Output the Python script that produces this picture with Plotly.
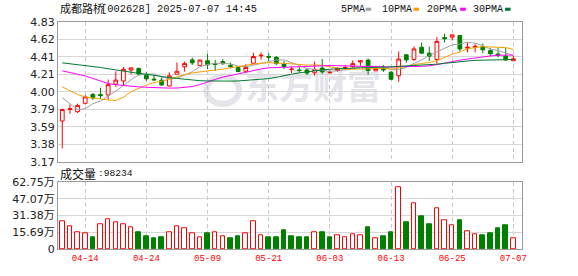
import plotly.graph_objects as go

# ---------------- data ----------------
dates = ["2025-04-09", "2025-04-10", "2025-04-11", "2025-04-14", "2025-04-15", "2025-04-16", "2025-04-17", "2025-04-18",
         "2025-04-21", "2025-04-22", "2025-04-23", "2025-04-24", "2025-04-25", "2025-04-28", "2025-04-29", "2025-04-30",
         "2025-05-06", "2025-05-07", "2025-05-08", "2025-05-09", "2025-05-12", "2025-05-13", "2025-05-14", "2025-05-15",
         "2025-05-16", "2025-05-19", "2025-05-20", "2025-05-21", "2025-05-22", "2025-05-23", "2025-05-26", "2025-05-27",
         "2025-05-28", "2025-05-29", "2025-05-30", "2025-06-03", "2025-06-04", "2025-06-05", "2025-06-06", "2025-06-09",
         "2025-06-10", "2025-06-11", "2025-06-12", "2025-06-13", "2025-06-16", "2025-06-17", "2025-06-18", "2025-06-19",
         "2025-06-20", "2025-06-23", "2025-06-24", "2025-06-25", "2025-06-26", "2025-06-27", "2025-06-30", "2025-07-01",
         "2025-07-02", "2025-07-03", "2025-07-04", "2025-07-07"]

opens = [3.655, 3.79, 3.765, 3.865, 3.97, 3.97, 3.963, 4.092, 4.13, 4.26,
         4.278, 4.198, 4.152, 4.14, 4.07, 4.21, 4.298, 4.38, 4.315, 4.37,
         4.333, 4.36, 4.315, 4.29, 4.245, 4.34, 4.428, 4.42, 4.41, 4.33,
         4.266, 4.26, 4.26, 4.227, 4.283, 4.228, 4.255, 4.282, 4.30, 4.355,
         4.378, 4.25, 4.276, 4.234, 4.192, 4.44, 4.385, 4.53, 4.46, 4.385,
         4.645, 4.65, 4.67, 4.52, 4.53, 4.537, 4.49, 4.45, 4.427, 4.37]
highs = [3.80, 3.85, 3.86, 3.96, 3.985, 4.05, 4.147, 4.245, 4.295, 4.29,
         4.29, 4.235, 4.20, 4.17, 4.232, 4.35, 4.36, 4.408, 4.385, 4.45,
         4.38, 4.39, 4.35, 4.30, 4.33, 4.465, 4.47, 4.46, 4.427, 4.367,
         4.30, 4.30, 4.283, 4.36, 4.39, 4.26, 4.29, 4.32, 4.375, 4.372,
         4.397, 4.28, 4.32, 4.245, 4.48, 4.45, 4.54, 4.586, 4.537, 4.65,
         4.69, 4.68, 4.67, 4.586, 4.575, 4.575, 4.52, 4.52, 4.52, 4.43]
lows = [3.33, 3.74, 3.75, 3.85, 3.905, 3.915, 3.905, 4.06, 4.078, 4.205,
        4.20, 4.13, 4.13, 4.07, 4.065, 4.21, 4.24, 4.32, 4.31, 4.27,
        4.25, 4.32, 4.28, 4.235, 4.227, 4.33, 4.385, 4.367, 4.32, 4.27,
        4.223, 4.23, 4.20, 4.193, 4.215, 4.215, 4.24, 4.26, 4.283, 4.31,
        4.204, 4.25, 4.238, 4.14, 4.12, 4.345, 4.367, 4.45, 4.367, 4.336,
        4.586, 4.61, 4.48, 4.47, 4.47, 4.46, 4.424, 4.41, 4.378, 4.37]
closes = [3.79, 3.80, 3.84, 3.94, 3.928, 3.955, 4.086, 4.14, 4.268, 4.285,
          4.212, 4.155, 4.143, 4.083, 4.19, 4.245, 4.336, 4.345, 4.378, 4.322,
          4.326, 4.335, 4.303, 4.242, 4.29, 4.42, 4.435, 4.412, 4.336, 4.30,
          4.27, 4.254, 4.223, 4.268, 4.238, 4.235, 4.28, 4.29, 4.336, 4.37,
          4.253, 4.277, 4.262, 4.15, 4.39, 4.38, 4.51, 4.46, 4.424, 4.60,
          4.632, 4.677, 4.51, 4.53, 4.54, 4.50, 4.453, 4.437, 4.378, 4.393]

# volume in 万 (10k hands); last value = 98234 hands
volumes = [26.5, 21.0, 15.5, 14.6, 11.2, 22.8, 28.3, 25.6, 23.7, 20.0,
           15.8, 12.2, 10.3, 11.2, 15.5, 21.0, 19.2, 14.6, 11.0, 14.6,
           15.5, 11.9, 10.0, 11.9, 14.6, 26.5, 12.8, 11.0, 11.0, 17.3,
           11.9, 11.0, 11.0, 15.5, 15.5, 11.0, 12.8, 11.0, 13.7, 12.8,
           20.0, 10.0, 11.9, 15.5, 58.4, 24.7, 42.9, 31.0, 22.8, 38.0,
           27.1, 22.5, 27.4, 16.4, 13.4, 12.8, 14.6, 19.2, 21.9, 9.8234]

ma5 = [3.93, 3.86, 3.79, 3.80, 3.860, 3.893, 3.950, 4.010, 4.075, 4.147,
       4.198, 4.212, 4.213, 4.176, 4.157, 4.163, 4.199, 4.240, 4.299, 4.325,
       4.341, 4.341, 4.333, 4.306, 4.299, 4.318, 4.338, 4.360, 4.379, 4.381,
       4.351, 4.314, 4.277, 4.263, 4.251, 4.244, 4.249, 4.262, 4.276, 4.302,
       4.306, 4.305, 4.300, 4.262, 4.266, 4.292, 4.338, 4.378, 4.433, 4.475,
       4.525, 4.559, 4.569, 4.590, 4.578, 4.551, 4.507, 4.492, 4.462, 4.432]
ma10 = [4.06, 4.01, 3.97, 3.94, 3.925, 3.91, 3.904, 3.899, 3.937, 4.003,
        4.045, 4.081, 4.111, 4.126, 4.152, 4.181, 4.206, 4.226, 4.237, 4.241,
        4.252, 4.270, 4.286, 4.302, 4.312, 4.330, 4.340, 4.346, 4.342, 4.340,
        4.334, 4.326, 4.318, 4.321, 4.316, 4.297, 4.282, 4.269, 4.269, 4.276,
        4.275, 4.277, 4.281, 4.269, 4.284, 4.299, 4.322, 4.339, 4.348, 4.371,
        4.409, 4.449, 4.473, 4.511, 4.526, 4.538, 4.533, 4.530, 4.526, 4.505]
ma20 = [4.25, 4.23, 4.21, 4.19, 4.16, 4.13, 4.10, 4.085, 4.075, 4.065,
        4.06, 4.055, 4.05, 4.045, 4.045, 4.046, 4.055, 4.063, 4.087, 4.122,
        4.149, 4.176, 4.199, 4.214, 4.232, 4.255, 4.273, 4.286, 4.290, 4.290,
        4.293, 4.298, 4.302, 4.312, 4.314, 4.313, 4.311, 4.308, 4.306, 4.308,
        4.305, 4.302, 4.300, 4.295, 4.300, 4.298, 4.302, 4.304, 4.309, 4.324,
        4.342, 4.363, 4.377, 4.390, 4.405, 4.419, 4.427, 4.435, 4.437, 4.438]
ma30 = [4.345, 4.335, 4.325, 4.315, 4.30, 4.29, 4.275, 4.26, 4.245, 4.23,
        4.22, 4.21, 4.195, 4.18, 4.17, 4.16, 4.15, 4.14, 4.133, 4.13,
        4.127, 4.127, 4.128, 4.13, 4.135, 4.141, 4.151, 4.158, 4.173, 4.195,
        4.211, 4.226, 4.239, 4.250, 4.260, 4.269, 4.276, 4.281, 4.283, 4.286,
        4.287, 4.291, 4.295, 4.297, 4.304, 4.309, 4.314, 4.318, 4.320, 4.329,
        4.339, 4.351, 4.357, 4.367, 4.375, 4.378, 4.379, 4.380, 4.381, 4.384]

price_ticks = [3.17, 3.3775, 3.585, 3.7925, 4.00, 4.2075, 4.415, 4.6225, 4.83]
price_labels = ["3.17", "3.38", "3.59", "3.79", "4.00", "4.21", "4.41", "4.62", "4.83"]
vol_ticks = [0, 15.6875, 31.375, 47.0625, 62.75]
vol_labels = ["0", "15.69万", "31.38万", "47.07万", "62.75万"]
x_tick_dates = ["2025-04-14", "2025-04-24", "2025-05-09", "2025-05-21",
                "2025-06-03", "2025-06-13", "2025-06-25", "2025-07-07"]
x_tick_labels = ["04-14", "04-24", "05-09", "05-21", "06-03", "06-13", "06-25", "07-07"]

ma_names = ["5PMA", "10PMA", "20PMA", "30PMA"]
ma_colors = ["#a0a0a0", "#f5a000", "#ff00ff", "#007a33"]

# ---------------- layout helpers ----------------
W, H = 578, 276
ML, MR, MT, MB = 56, 56, 22, 21
PW, PH = W - ML - MR, H - MT - MB


def px(x):
    return (x - ML) / PW


def py(y):
    return (H - MB - y) / PH


RED = "#ff0000"
GREEN = "#008000"

fig = go.Figure()

for vals, name, col in zip([ma5, ma10, ma20, ma30], ma_names, ma_colors):
    fig.add_trace(go.Scatter(x=dates, y=vals, mode="lines", name=name,
                             line=dict(color=col, width=1), xaxis="x", yaxis="y",
                             hoverinfo="skip", showlegend=False))

fig.add_trace(go.Candlestick(
    x=dates, open=opens, high=highs, low=lows, close=closes,
    increasing=dict(line=dict(color=RED, width=1), fillcolor="#ffffff"),
    decreasing=dict(line=dict(color=GREEN, width=1), fillcolor=GREEN),
    whiskerwidth=0, xaxis="x", yaxis="y", showlegend=False))

up = [True] + [closes[i] >= closes[i - 1] for i in range(1, len(closes))]
fig.add_trace(go.Bar(
    x=dates, y=volumes, width=0.6,
    marker=dict(color=["#ffffff" if u else GREEN for u in up],
                line=dict(color=[RED if u else GREEN for u in up], width=1)),
    xaxis="x2", yaxis="y2", showlegend=False))

xr = [-0.56, 60.13]
tickfont_y = dict(family="DejaVu Sans, Noto Sans CJK SC", size=11, color="#222")
common_x = dict(type="category", range=xr, showgrid=True, gridcolor="#c8c8c8",
                griddash="4px,3px", gridwidth=1, tickvals=x_tick_dates,
                showline=True, mirror=True, linecolor="#999", linewidth=1,
                ticks="", zeroline=False, fixedrange=True)

fig.update_layout(
    width=W, height=H, margin=dict(l=ML, r=MR, t=MT, b=MB, pad=0),
    paper_bgcolor="white", plot_bgcolor="white", showlegend=False,
    bargap=0,
    xaxis=dict(domain=[0, 1], anchor="y", showticklabels=False,
               rangeslider=dict(visible=False), **common_x),
    xaxis2=dict(domain=[0, 1], anchor="y2", matches="x", ticktext=x_tick_labels,
                tickfont=dict(family="Liberation Mono", size=9, color=RED),
                **common_x),
    yaxis=dict(domain=[py(165.5), 1], anchor="x", range=[3.17, 4.83],
               tickvals=price_ticks, ticktext=price_labels, tickfont=tickfont_y,
               showgrid=True, gridcolor="#d6d6d6", gridwidth=1, zeroline=False,
               showline=True, mirror=True, linecolor="#999", linewidth=1, ticks=""),
    yaxis2=dict(domain=[0, py(186.5)], anchor="x2", range=[0, 62.75],
                tickvals=vol_ticks, ticktext=vol_labels, tickfont=tickfont_y,
                showgrid=True, gridcolor="#d6d6d6", gridwidth=1, zeroline=False,
                showline=True, mirror=True, linecolor="#999", linewidth=1, ticks=""),
)

annos = []
shapes = []
# title
annos.append(dict(text="成都路桥", x=px(56), y=py(8), xref="paper", yref="paper",
                  xanchor="left", yanchor="middle", showarrow=False,
                  font=dict(family="Noto Sans CJK SC", size=11, color="#111")))
annos.append(dict(text="[002628] 2025-07-07 14:45", x=px(97), y=py(8.5), xref="paper", yref="paper",
                  xanchor="left", yanchor="middle", showarrow=False,
                  font=dict(family="Liberation Mono", size=10.4, color="#111")))
# volume label
annos.append(dict(text="成交量", x=px(56), y=py(177), xref="paper", yref="paper",
                  xanchor="left", yanchor="middle", showarrow=False,
                  font=dict(family="Noto Sans CJK SC", size=12, color="#111")))
annos.append(dict(text=":98234", x=px(94), y=py(177.5), xref="paper", yref="paper",
                  xanchor="left", yanchor="middle", showarrow=False,
                  font=dict(family="Liberation Mono", size=9.6, color="#111")))
# MA legend
leg_text_x = [338, 379.5, 425, 471]
leg_sq_x = [365, 413, 460, 505]
for name, col, tx, sx in zip(ma_names, ma_colors, leg_text_x, leg_sq_x):
    annos.append(dict(text=name, x=px(tx), y=py(9), xref="paper", yref="paper",
                      xanchor="left", yanchor="middle", showarrow=False,
                      font=dict(family="Liberation Mono", size=10, color="#111")))
    shapes.append(dict(type="rect", xref="paper", yref="paper",
                       x0=px(sx), x1=px(sx + 5.5), y0=py(10.5), y1=py(7.3),
                       fillcolor=col, line=dict(width=0)))
# watermark
shapes.append(dict(type="rect", xref="paper", yref="paper", layer="between",
                   x0=px(240), x1=px(384), y0=py(110), y1=py(73),
                   fillcolor="rgba(0,0,0,0)", line=dict(width=0),
                   label=dict(text="东方财富", textposition="middle center",
                              font=dict(family="Noto Sans CJK SC", size=34,
                                        color="#e4e4ea", weight="bold"))))
shapes.append(dict(type="circle", xref="paper", yref="paper", layer="between",
                   x0=px(205), x1=px(238), y0=py(106), y1=py(78),
                   fillcolor="rgba(0,0,0,0)", line=dict(color="#e4e4ea", width=6)))

fig.update_layout(annotations=annos, shapes=shapes)

fig.write_html("out.html", config={"displayModeBar": False})
